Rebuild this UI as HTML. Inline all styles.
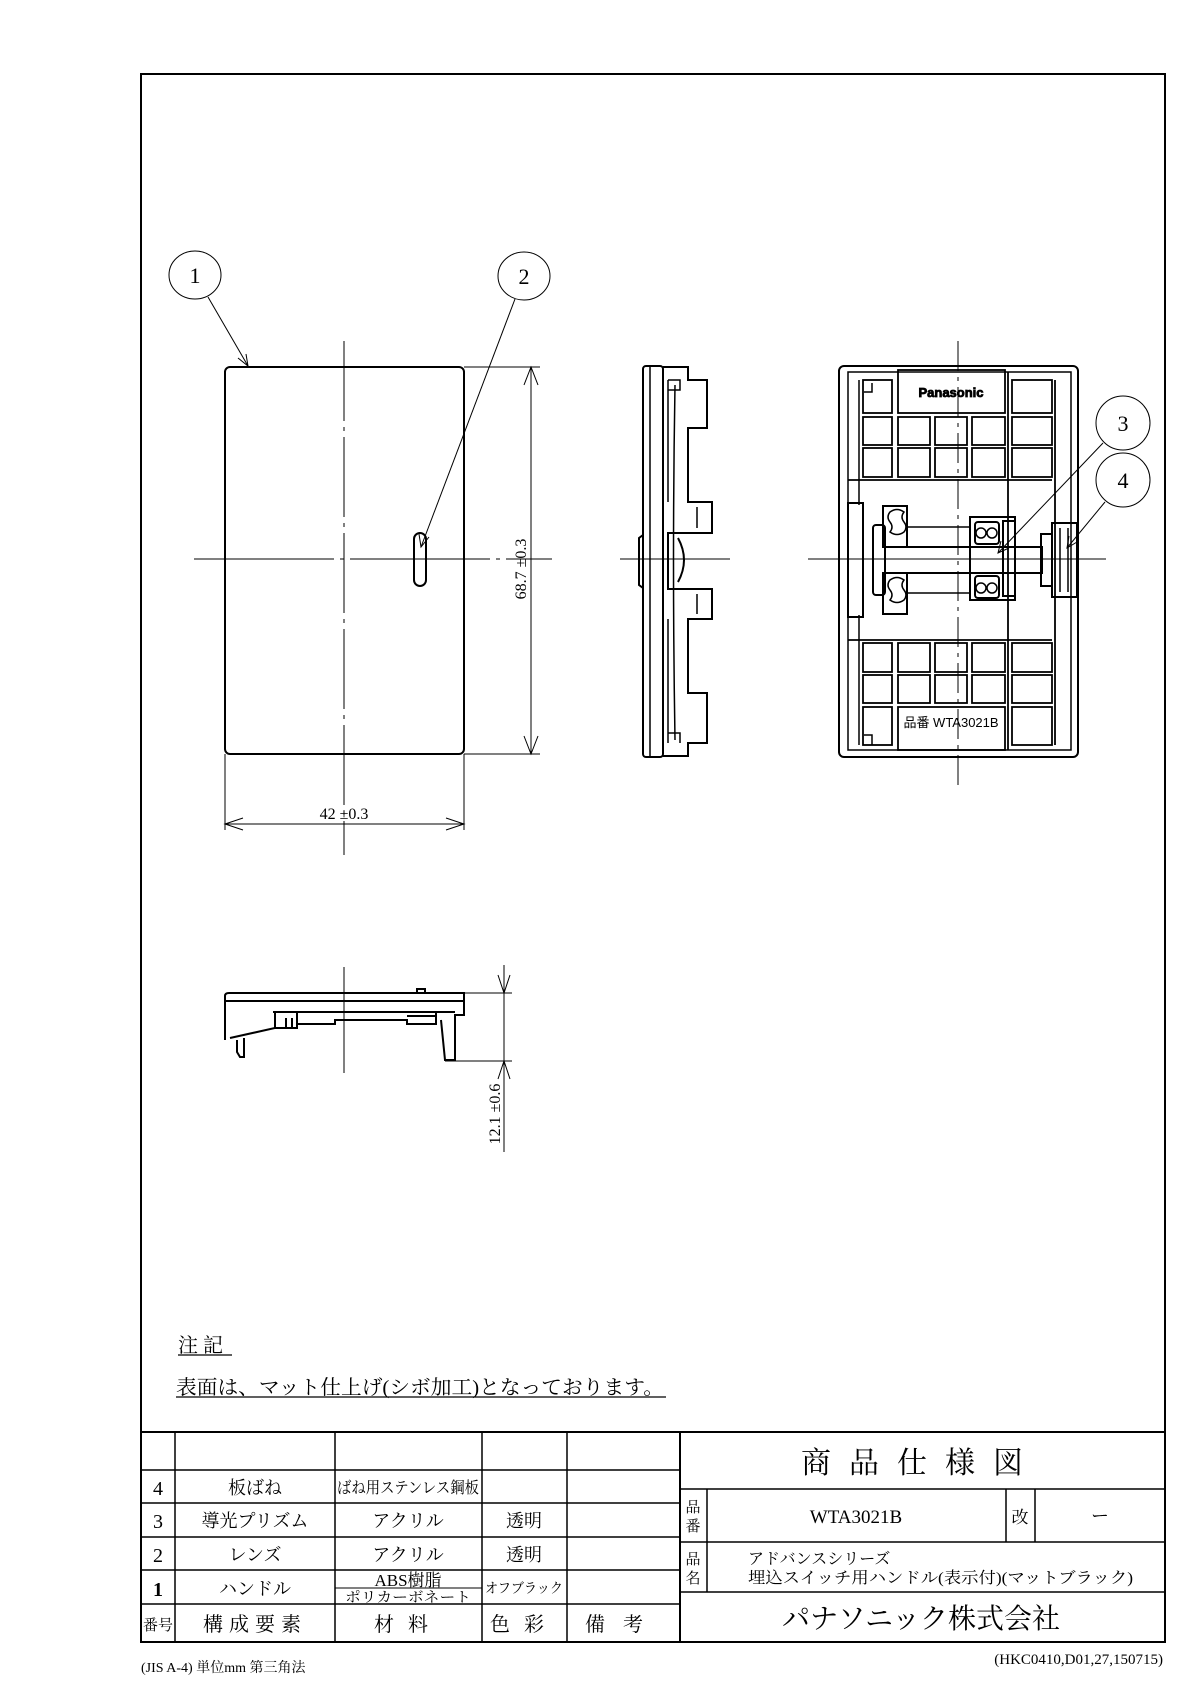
<!DOCTYPE html>
<html><head><meta charset="utf-8"><style>
html,body{margin:0;padding:0;background:#fff}
svg{display:block}
text{font-family:"Liberation Serif","Noto Serif CJK SC",serif;fill:#000}
.s{font-family:"Liberation Sans","Noto Sans CJK JP",sans-serif}
</style></head><body>
<svg width="1190" height="1683" viewBox="0 0 1190 1683" xmlns="http://www.w3.org/2000/svg">
<g fill="none" stroke="#000">
<rect x="141" y="74" width="1024" height="1568" stroke-width="2"/>

<rect x="225" y="367" width="239" height="387" rx="5" stroke-width="2"/>
<line x1="344" y1="341" x2="344" y2="855" stroke-width="1" stroke-dasharray="80,6,4,6"/>
<line x1="194" y1="559" x2="552" y2="559" stroke-width="1" stroke-dasharray="140,6,4,6"/>
<rect x="414" y="533" width="12" height="53" rx="6" stroke-width="2"/>
<line x1="464" y1="367" x2="540" y2="367" stroke-width="1"/>
<line x1="464" y1="754" x2="540" y2="754" stroke-width="1"/>
<line x1="531" y1="367" x2="531" y2="754" stroke-width="1"/>
<path d="M524 385 L531 367 L538 385 M524 736 L531 754 L538 736" stroke-width="1"/>
<line x1="225" y1="754" x2="225" y2="830" stroke-width="1"/>
<line x1="464" y1="754" x2="464" y2="830" stroke-width="1"/>
<line x1="225" y1="824" x2="464" y2="824" stroke-width="1"/>
<path d="M243 818 L225 824 L243 830 M446 818 L464 824 L446 830" stroke-width="1"/>
<ellipse cx="195" cy="275" rx="26" ry="24" stroke-width="1"/>
<line x1="208" y1="297" x2="248" y2="366" stroke-width="1"/>
<path d="M238 358 L248 366 L246 354" stroke-width="1"/>
<ellipse cx="524" cy="276" rx="26" ry="24" stroke-width="1"/>
<line x1="515" y1="299" x2="421" y2="547" stroke-width="1"/>
<path d="M419 534 L421 547 L429 537" stroke-width="1"/>

<rect x="643" y="366" width="20" height="391" rx="3" stroke-width="2"/>
<line x1="650" y1="367" x2="650" y2="756" stroke-width="1.5"/>
<path d="M663 367 L688 367 L688 380 L707 380 L707 428 L688 428 L688 502 L712 502 L712 533 L668 533 L668 589 L712 589 L712 619 L688 619 L688 693 L707 693 L707 743 L688 743 L688 756 L663 756" stroke-width="2"/>
<path d="M668 380 L668 502 M668 619 L668 743 M675 385 Q672 560 675 740 M668 380 L680 380 L680 390 L668 390 M668 733 L680 733 L680 743" stroke-width="1.5"/>
<path d="M688 428 L688 502 M697 507 L697 528 M697 594 L697 614" stroke-width="1.5"/>
<path d="M643 535 L639 538 L639 585 L643 588" stroke-width="2"/>
<path d="M678 538 Q690 560 678 582" stroke-width="2"/>
<line x1="620" y1="559" x2="730" y2="559" stroke-width="1"/>

<rect x="839" y="366" width="239" height="391" rx="5" stroke-width="2"/>
<path d="M848 372 L1071 372 L1071 750 L848 750 Z" stroke-width="1.5"/>
<path d="M859 380 L859 505 M859 615 L859 745 M864 392 L872 392 L872 383 M864 735 L872 735 L872 745" stroke-width="1.5"/>
<g stroke-width="1.8">
<rect x="898" y="370" width="107" height="43"/>
<rect x="898" y="707" width="107" height="43"/>
<rect x="863" y="417" width="29" height="28"/><rect x="898" y="417" width="32" height="28"/><rect x="935" y="417" width="32" height="28"/><rect x="972" y="417" width="33" height="28"/><rect x="1012" y="417" width="40" height="28"/>
<rect x="863" y="448" width="29" height="29"/><rect x="898" y="448" width="32" height="29"/><rect x="935" y="448" width="32" height="29"/><rect x="972" y="448" width="33" height="29"/><rect x="1012" y="448" width="40" height="29"/>
<rect x="863" y="643" width="29" height="29"/><rect x="898" y="643" width="32" height="29"/><rect x="935" y="643" width="32" height="29"/><rect x="972" y="643" width="33" height="29"/><rect x="1012" y="643" width="40" height="29"/>
<rect x="863" y="675" width="29" height="28"/><rect x="898" y="675" width="32" height="28"/><rect x="935" y="675" width="32" height="28"/><rect x="972" y="675" width="33" height="28"/><rect x="1012" y="675" width="40" height="28"/>
<rect x="863" y="380" width="29" height="33"/><rect x="1012" y="380" width="40" height="33"/>
<rect x="863" y="707" width="29" height="38"/><rect x="1012" y="707" width="40" height="38"/>
<line x1="848" y1="480" x2="1052" y2="480"/><line x1="848" y1="640" x2="1052" y2="640"/>
<line x1="1008" y1="372" x2="1008" y2="750"/><line x1="1055" y1="380" x2="1055" y2="745"/>
</g>
<g stroke-width="2">
<rect x="848" y="503" width="15" height="114"/>
<rect x="873" y="525" width="12" height="70" rx="3"/>
<rect x="883" y="506" width="24" height="41"/>
<rect x="883" y="573" width="24" height="41"/>
<rect x="885" y="547" width="157" height="26"/>
<rect x="970" y="517" width="45" height="83"/>
<rect x="1003" y="521" width="12" height="75"/>
<rect x="1052" y="523" width="25" height="74"/>
<rect x="1041" y="534" width="11" height="52"/>
<rect x="975" y="522" width="24" height="22" rx="3"/>
<rect x="975" y="576" width="24" height="22" rx="3"/>
</g>
<g stroke-width="1.5">
<path d="M890 512 q7 -5 14 0 q-4 5 0 10 q4 5 0 10 q-7 5 -14 0 q4 -5 0 -10 q-4 -5 0 -10z"/>
<path d="M890 580 q7 -5 14 0 q-4 5 0 10 q4 5 0 10 q-7 5 -14 0 q4 -5 0 -10 q-4 -5 0 -10z"/>
<circle cx="981" cy="533" r="5"/><circle cx="992" cy="533" r="5"/>
<circle cx="981" cy="588" r="5"/><circle cx="992" cy="588" r="5"/>
<line x1="907" y1="527" x2="970" y2="527"/><line x1="907" y1="593" x2="970" y2="593"/>
<line x1="1060" y1="528" x2="1060" y2="592"/><line x1="1068" y1="528" x2="1068" y2="592"/>
</g>
<line x1="958" y1="341" x2="958" y2="790" stroke-width="1" stroke-dasharray="30,6,4,6"/>
<line x1="808" y1="559" x2="1106" y2="559" stroke-width="1"/>
<circle cx="1123" cy="423" r="27" stroke-width="1"/>
<line x1="1103" y1="443" x2="998" y2="553" stroke-width="1"/>
<path d="M1001 541 L998 553 L1009 548" stroke-width="1"/>
<circle cx="1123" cy="480" r="27" stroke-width="1"/>
<line x1="1105" y1="502" x2="1067" y2="548" stroke-width="1"/>
<path d="M1069 536 L1067 548 L1077 542" stroke-width="1"/>

<g stroke-width="2">
<path d="M225 1040 L225 996 Q225 993 229 993 L464 993 L464 1015 L455 1015 L455 1060 L445 1060 L441 1020"/>
<line x1="225" y1="1001" x2="464" y2="1001"/>
<path d="M273 1012 L455 1012 M275 1012 L275 1028 L230 1038 M275 1028 L297 1028 L297 1012 M286 1018 L286 1028 M292 1018 L292 1028"/>
<path d="M297 1024 L335 1024 L335 1020 L407 1020 L407 1024 L436 1024 L436 1012 M407 1016 L436 1016"/>
<path d="M237 1040 L237 1052 L240 1057 L244 1057 L244 1038"/>
<path d="M417 993 L417 989 L425 989 L425 993"/>
</g>
<line x1="344" y1="967" x2="344" y2="1073" stroke-width="1"/>
<line x1="464" y1="993" x2="512" y2="993" stroke-width="1"/>
<line x1="445" y1="1061" x2="512" y2="1061" stroke-width="1"/>
<line x1="504" y1="965" x2="504" y2="1152" stroke-width="1"/>
<path d="M498 975 L504 993 L510 975 M498 1079 L504 1061 L510 1079" stroke-width="1"/>

<g stroke-width="1.5">
<rect x="141" y="1432" width="539" height="210" stroke-width="2"/>
<line x1="141" y1="1470" x2="680" y2="1470"/><line x1="141" y1="1503" x2="680" y2="1503"/>
<line x1="141" y1="1537" x2="680" y2="1537"/><line x1="141" y1="1570" x2="680" y2="1570"/>
<line x1="141" y1="1604" x2="680" y2="1604"/>
<line x1="175" y1="1432" x2="175" y2="1642"/><line x1="335" y1="1432" x2="335" y2="1642"/>
<line x1="482" y1="1432" x2="482" y2="1642"/><line x1="567" y1="1432" x2="567" y2="1642"/>
<line x1="335" y1="1588" x2="482" y2="1588" stroke-width="1"/>
<rect x="680" y="1432" width="485" height="210" stroke-width="2"/>
<line x1="680" y1="1489" x2="1165" y2="1489"/><line x1="680" y1="1542" x2="1165" y2="1542"/>
<line x1="680" y1="1592" x2="1165" y2="1592"/>
<line x1="707" y1="1489" x2="707" y2="1592"/>
<line x1="1006" y1="1489" x2="1006" y2="1542"/><line x1="1035" y1="1489" x2="1035" y2="1542"/>
</g>
<line x1="178" y1="1355" x2="232" y2="1355" stroke-width="1.2"/>
<line x1="176" y1="1397" x2="666" y2="1397" stroke-width="1.2"/>
</g>

<text x="195" y="283" font-size="22" text-anchor="middle">1</text>
<text x="524" y="284" font-size="22" text-anchor="middle">2</text>
<text x="1123" y="431" font-size="22" text-anchor="middle">3</text>
<text x="1123" y="488" font-size="22" text-anchor="middle">4</text>
<text x="344" y="819" font-size="16" text-anchor="middle">42 ±0.3</text>
<text transform="translate(526,569) rotate(-90)" font-size="16" text-anchor="middle">68.7 ±0.3</text>
<text transform="translate(500,1114) rotate(-90)" font-size="16" text-anchor="middle">12.1 ±0.6</text>
<text class="s" x="951" y="397" font-size="13" font-weight="bold" text-anchor="middle" fill="#fff" stroke="#000" stroke-width="0.8">Panasonic</text>
<text class="s" x="951" y="727" font-size="13" text-anchor="middle">品番 WTA3021B</text>

<text x="178" y="1352" font-size="20">注 記</text>
<text x="176" y="1394" font-size="20" textLength="488" lengthAdjust="spacingAndGlyphs">表面は、マット仕上げ(シボ加工)となっております。</text>

<g font-size="18" text-anchor="middle">
<text x="158" y="1495" font-size="20">4</text><text x="255" y="1494">板ばね</text><text x="408" y="1493" font-size="16" textLength="142" lengthAdjust="spacingAndGlyphs">ばね用ステンレス鋼板</text>
<text x="158" y="1528" font-size="20">3</text><text x="255" y="1527">導光プリズム</text><text x="408" y="1527">アクリル</text><text x="524" y="1527">透明</text>
<text x="158" y="1562" font-size="20">2</text><text x="255" y="1561">レンズ</text><text x="408" y="1561">アクリル</text><text x="524" y="1561">透明</text>
<text x="158" y="1596" font-size="20" font-weight="bold">1</text><text x="255" y="1595">ハンドル</text><text x="408" y="1586" font-size="17">ABS樹脂</text><text x="408" y="1602" font-size="14" textLength="126" lengthAdjust="spacingAndGlyphs">ポリカーボネート</text><text x="524" y="1593" font-size="14" textLength="78" lengthAdjust="spacingAndGlyphs">オフブラック</text>
<text x="158" y="1630" font-size="15">番号</text><text x="255" y="1631" font-size="20" letter-spacing="6">構成要素</text><text x="408" y="1631" font-size="20" letter-spacing="14">材料</text><text x="524" y="1631" font-size="20" letter-spacing="14">色彩</text><text x="623" y="1631" font-size="20" letter-spacing="18">備考</text>
</g>
<text x="921" y="1473" font-size="30" text-anchor="middle" letter-spacing="18">商品仕様図</text>
<text x="693" y="1512" font-size="15" text-anchor="middle">品</text><text x="693" y="1531" font-size="15" text-anchor="middle">番</text>
<text x="693" y="1564" font-size="15" text-anchor="middle">品</text><text x="693" y="1583" font-size="15" text-anchor="middle">名</text>
<text x="856" y="1523" font-size="19" text-anchor="middle">WTA3021B</text>
<text x="1020" y="1523" font-size="17" text-anchor="middle">改</text>
<text x="1100" y="1522" font-size="18" text-anchor="middle">ー</text>
<text x="748" y="1564" font-size="16">アドバンスシリーズ</text>
<text x="748" y="1583" font-size="16" textLength="385" lengthAdjust="spacingAndGlyphs">埋込スイッチ用ハンドル(表示付)(マットブラック)</text>
<text x="921" y="1628" font-size="28" text-anchor="middle">パナソニック株式会社</text>
<text x="141" y="1672" font-size="14">(JIS A-4) 単位mm 第三角法</text>
<text x="1163" y="1664" font-size="15" text-anchor="end">(HKC0410,D01,27,150715)</text>
</svg>
</body></html>
